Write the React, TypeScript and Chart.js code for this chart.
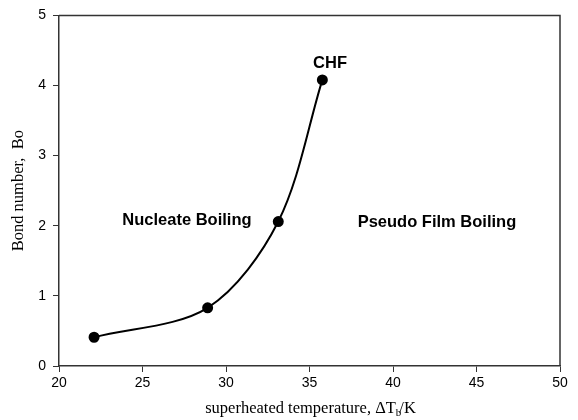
import React, { useEffect, useRef } from "react";
import { Chart, registerables } from "chart.js";

Chart.register(...registerables);

const superheat = [22.1, 28.9, 33.13, 35.77];
const bondNumber = [0.41, 0.83, 2.06, 4.08];
const xTicks = [20, 25, 30, 35, 40, 45, 50];
const yTicks = [0, 1, 2, 3, 4, 5];
const regionLabels = ["CHF", "Nucleate Boiling", "Pseudo Film Boiling"];
const regionX = [36.23, 27.66, 42.63];
const regionY = [4.31, 2.07, 2.05];

const decorPlugin = {
  id: "decor",
  afterDraw(chart: any) {
    const { ctx, chartArea, scales } = chart;
    ctx.save();
    // frame top/right
    ctx.strokeStyle = "#333";
    ctx.lineWidth = 1.5;
    ctx.beginPath();
    ctx.moveTo(chartArea.left, chartArea.top);
    ctx.lineTo(chartArea.right, chartArea.top);
    ctx.lineTo(chartArea.right, chartArea.bottom);
    ctx.stroke();
    // region labels
    ctx.fillStyle = "#000";
    ctx.font = "bold 16.5px 'Liberation Sans', Arial, sans-serif";
    ctx.textAlign = "center";
    ctx.textBaseline = "middle";
    regionLabels.forEach((t, i) => {
      ctx.fillText(t, scales.x.getPixelForValue(regionX[i]), scales.y.getPixelForValue(regionY[i]));
    });
    // x title with subscript
    const cx = (chartArea.left + chartArea.right) / 2 + 1;
    const base = 413;
    const big = "16.5px 'Liberation Serif', 'Times New Roman', serif";
    const small = "11px 'Liberation Serif', 'Times New Roman', serif";
    const p1 = "superheated temperature, \u0394T";
    const p2 = "b";
    const p3 = "/K";
    ctx.textBaseline = "alphabetic";
    ctx.textAlign = "left";
    ctx.font = big;
    const w1 = ctx.measureText(p1).width;
    ctx.font = small;
    const w2 = ctx.measureText(p2).width;
    ctx.font = big;
    const w3 = ctx.measureText(p3).width;
    let x0 = cx - (w1 + w2 + w3 - 2) / 2;
    ctx.fillText(p1, x0, base);
    x0 += w1;
    ctx.font = small;
    ctx.fillText(p2, x0, base + 3);
    x0 += w2;
    ctx.font = big;
    ctx.fillText(p3, x0 - 2, base);
    ctx.restore();
  },
};

export default function App() {
  const ref = useRef<HTMLCanvasElement>(null);
  useEffect(() => {
    if (!ref.current) return;
    const chart = new Chart(ref.current, {
      type: "line",
      data: {
        datasets: [
          {
            data: superheat.map((x, i) => ({ x, y: bondNumber[i] })),
            borderColor: "#000",
            backgroundColor: "#000",
            borderWidth: 2,
            pointRadius: 4.5,
            pointBackgroundColor: "#000",
            pointBorderColor: "#000",
            tension: 0.32,
            fill: false,
          },
        ],
      },
      options: {
        animation: false,
        responsive: false,
        maintainAspectRatio: false,
        layout: { padding: { top: 15, right: 18, left: 0, bottom: 0 } },
        plugins: { legend: { display: false }, tooltip: { enabled: false } },
        scales: {
          x: {
            type: "linear",
            min: 20,
            max: 50,
            afterBuildTicks: (s: any) => {
              s.ticks = xTicks.map((v) => ({ value: v }));
            },
            afterFit: (s: any) => {
              s.height = 54;
            },
            grid: { drawOnChartArea: false, drawTicks: true, tickLength: 6, color: "#333", lineWidth: 1 },
            border: { display: true, color: "#333", width: 1.5 },
            ticks: { color: "#000", font: { family: "'Liberation Sans', Arial, sans-serif", size: 14 }, padding: 3, maxRotation: 0 },
            title: { display: false },
          },
          y: {
            type: "linear",
            min: 0,
            max: 5,
            afterBuildTicks: (s: any) => {
              s.ticks = yTicks.map((v) => ({ value: v }));
            },
            afterFit: (s: any) => {
              s.width = 59;
            },
            grid: { drawOnChartArea: false, drawTicks: true, tickLength: 6, color: "#333", lineWidth: 1 },
            border: { display: true, color: "#333", width: 1.5 },
            ticks: { color: "#000", font: { family: "'Liberation Sans', Arial, sans-serif", size: 14 }, padding: 7 },
            title: {
              display: true,
              text: "Bond number,  Bo",
              color: "#000",
              font: { family: "'Liberation Serif', 'Times New Roman', serif", size: 16.5, weight: "normal" },
              padding: { top: 9, bottom: 0 },
            },
          },
        },
      },
      plugins: [decorPlugin],
    } as any);
    return () => chart.destroy();
  }, []);
  return (
    <div style={{ position: "fixed", left: 0, top: 0, width: 578, height: 420, background: "#fff" }}>
      <canvas ref={ref} width={578} height={420} style={{ width: 578, height: 420 }} />
    </div>
  );
}
